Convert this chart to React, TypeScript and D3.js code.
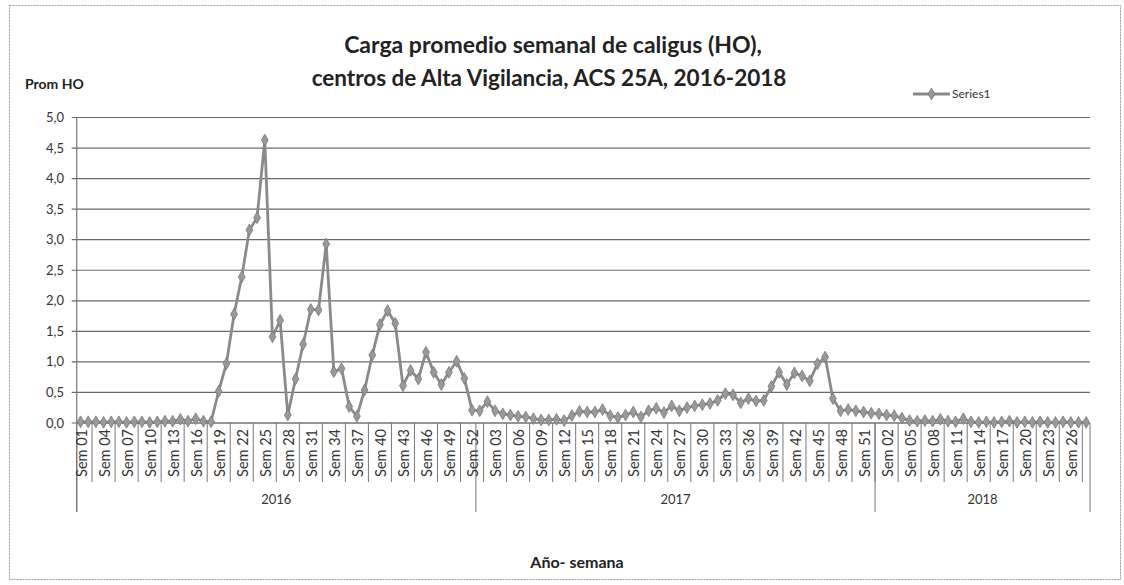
import React from "react";
import * as d3 from "d3";

// años y semanas
const years = ["2016", "2017", "2018"];
const weeksPerYear = [52, 52, 28];

// promedio HO por semana
const values2016 = [
  0.02, 0.02, 0.02, 0.01, 0.02, 0.02, 0.01, 0.02, 0.02, 0.01, 0.02, 0.03,
  0.03, 0.06, 0.03, 0.07, 0.03, 0.02, 0.52, 0.97, 1.78, 2.39, 3.16, 3.36,
  4.63, 1.41, 1.68, 0.13, 0.72, 1.29, 1.86, 1.85, 2.93, 0.84, 0.89, 0.27,
  0.11, 0.54, 1.11, 1.61, 1.84, 1.63, 0.61, 0.86, 0.72, 1.16, 0.83, 0.63,
  0.83, 1.01, 0.73, 0.21,
];
const values2017 = [
  0.2, 0.35, 0.2, 0.15, 0.13, 0.11, 0.1, 0.07, 0.05, 0.05, 0.06, 0.04,
  0.12, 0.19, 0.18, 0.18, 0.22, 0.12, 0.09, 0.13, 0.18, 0.1, 0.2, 0.24,
  0.17, 0.28, 0.2, 0.25, 0.28, 0.3, 0.32, 0.37, 0.48, 0.46, 0.33, 0.4,
  0.36, 0.37, 0.6, 0.83, 0.63, 0.82, 0.77, 0.69, 0.97, 1.08, 0.4, 0.2,
  0.22, 0.2, 0.18, 0.16,
];
const values2018 = [
  0.15, 0.13, 0.12, 0.08, 0.04, 0.03, 0.04, 0.03, 0.06, 0.03, 0.02, 0.07,
  0.02, 0.01, 0.02, 0.01, 0.02, 0.03, 0.01, 0.02, 0.01, 0.02, 0.01, 0.01,
  0.02, 0.01, 0.01, 0.01,
];
const yTicks = [0, 0.5, 1, 1.5, 2, 2.5, 3, 3.5, 4, 4.5, 5];
const labelEvery = 3;

const width = 1124;
const height = 585;
const plot = { left: 76.7, right: 1090, top: 117.5, bottom: 423 };
const font = "Lato, 'Open Sans', sans-serif";

const App = () => {
  const allValues = [values2016, values2017, values2018];
  // tabla de puntos: una fila por semana
  const data = years.flatMap((yr, yi) =>
    d3.range(weeksPerYear[yi]).map((w) => ({
      key: `${yr}-${w + 1}`,
      week: `Sem ${String(w + 1).padStart(2, "0")}`,
      year: yr,
      value: allValues[yi][w],
    }))
  );

  const x = d3
    .scaleBand()
    .domain(data.map((d) => d.key))
    .range([plot.left, plot.right])
    .padding(0);
  const bw = x.bandwidth();
  const y = d3.scaleLinear().domain([0, 5]).range([plot.bottom, plot.top]);

  const line = d3
    .line()
    .x((d) => x(d.key) + bw / 2)
    .y((d) => y(d.value));

  const diamond = d3.symbol().type(d3.symbolDiamond).size(40)();

  // límites de cada año
  const yearEdges = [0];
  weeksPerYear.forEach((n, i) => yearEdges.push(yearEdges[i] + n));

  // marcas cada 3 categorías, entre etiquetas
  const tickBounds = d3.range(2, data.length + 1, labelEvery);

  return (
    <svg
      width={width}
      height={height}
      style={{ position: "absolute", left: 0, top: 0, background: "#fff" }}
      fontFamily={font}
    >
      <rect
        x={9.5}
        y={5.5}
        width={1111}
        height={574}
        fill="#fff"
        stroke="#9a9a9a"
        strokeDasharray="2,1"
      />

      {/* título */}
      <text x={553} y={53} textAnchor="middle" fontSize={23} fontWeight="bold" fill="#222">
        Carga promedio semanal de caligus (HO),
      </text>
      <text x={549} y={86} textAnchor="middle" fontSize={22.5} fontWeight="bold" fill="#222">
        centros de Alta Vigilancia, ACS 25A, 2016-2018
      </text>

      <text x={25} y={89} fontSize={14} fontWeight="bold" fill="#222">
        Prom HO
      </text>

      {/* grilla y eje y */}
      {yTicks.map((t) => (
        <g key={t}>
          <line
            x1={plot.left - 5}
            x2={plot.right}
            y1={y(t)}
            y2={y(t)}
            stroke="#6a6a6a"
            strokeWidth={1.2}
          />
          <text
            x={64}
            y={y(t)}
            dy="0.35em"
            textAnchor="end"
            fontSize={13}
            fill="#333"
          >
            {d3.format(".1f")(t).replace(".", ",")}
          </text>
        </g>
      ))}
      <line x1={plot.left} x2={plot.left} y1={plot.top} y2={512} stroke="#777" strokeWidth={1.2} />

      {/* eje x */}
      <line x1={plot.left} x2={plot.right} y1={plot.bottom} y2={plot.bottom} stroke="#777" strokeWidth={1.2} />
      {tickBounds.map((b) => (
        <line
          key={b}
          x1={plot.left + b * bw}
          x2={plot.left + b * bw}
          y1={plot.bottom}
          y2={482}
          stroke="#777"
          strokeWidth={1}
        />
      ))}
      {yearEdges.map((b) => (
        <line
          key={"e" + b}
          x1={plot.left + b * bw}
          x2={plot.left + b * bw}
          y1={plot.bottom}
          y2={512}
          stroke="#777"
          strokeWidth={1}
        />
      ))}
      {data
        .filter((d, i) => i % labelEvery === 0)
        .map((d) => {
          const cx = x(d.key) + bw / 2 + 1;
          return (
            <text
              key={"l" + d.key}
              transform={`translate(${cx},429) rotate(-90)`}
              textAnchor="end"
              dy="0.35em"
              fontSize={14.5}
              fill="#333"
            >
              {d.week}
            </text>
          );
        })}
      {years.map((yr, i) => (
        <text
          key={yr}
          x={plot.left + ((yearEdges[i] + yearEdges[i + 1]) / 2) * bw}
          y={504}
          textAnchor="middle"
          fontSize={13}
          fill="#333"
        >
          {yr}
        </text>
      ))}

      <text x={577} y={568} textAnchor="middle" fontSize={16} fontWeight="bold" fill="#222">
        Año- semana
      </text>

      {/* serie */}
      <path d={line(data)} fill="none" stroke="#8a8a8a" strokeWidth={2.8} strokeLinejoin="round" />
      {data.map((d) => (
        <path
          key={"m" + d.key}
          d={diamond}
          transform={`translate(${x(d.key) + bw / 2},${y(d.value)})`}
          fill="#999"
          stroke="#777"
          strokeWidth={0.8}
        />
      ))}

      {/* leyenda */}
      <line x1={913} x2={950} y1={94} y2={94} stroke="#8a8a8a" strokeWidth={2.8} />
      <path d={diamond} transform="translate(931.5,94)" fill="#999" stroke="#777" strokeWidth={0.8} />
      <text x={952} y={98} fontSize={12} fill="#333">
        Series1
      </text>
    </svg>
  );
};

export default App;
